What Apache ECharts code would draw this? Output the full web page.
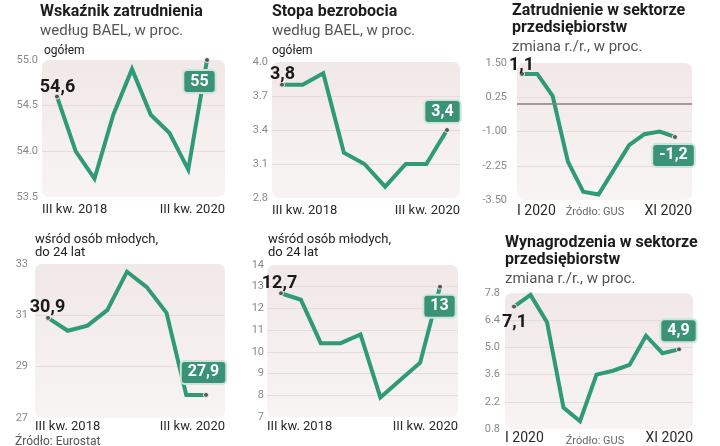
<!DOCTYPE html>
<html><head><meta charset="utf-8">
<script src="https://cdn.jsdelivr.net/npm/echarts@6/dist/echarts.min.js"></script>
<style>html,body{margin:0;padding:0;background:#fff}#c{width:720px;height:446px}</style>
</head><body><div id="c"></div>
<script>
// ---- categories ----
const quarters = ['III kw. 2018','IV kw. 2018','I kw. 2019','II kw. 2019','III kw. 2019','IV kw. 2019','I kw. 2020','II kw. 2020','III kw. 2020'];
const months = ['I 2020','II 2020','III 2020','IV 2020','V 2020','VI 2020','VII 2020','VIII 2020','IX 2020','X 2020','XI 2020'];
// ---- series values ----
const empTotal   = [54.6, 54.0, 53.7, 54.4, 54.9, 54.4, 54.2, 53.8, 55.0];
const unempTotal = [3.8, 3.8, 3.9, 3.2, 3.1, 2.9, 3.1, 3.1, 3.4];
const entEmp     = [1.1, 1.1, 0.3, -2.1, -3.2, -3.3, -2.4, -1.5, -1.1, -1.0, -1.2];
const empYoung   = [30.9, 30.4, 30.6, 31.2, 32.7, 32.1, 31.1, 27.9, 27.9];
const unempYoung = [12.7, 12.4, 10.4, 10.4, 10.8, 7.9, 8.7, 9.5, 13.0];
const wages      = [7.1, 7.7, 6.3, 1.9, 1.2, 3.6, 3.8, 4.1, 5.6, 4.7, 4.9];
// ---- y tick labels ----
const ticksEmpTotal   = [53.5, 54.0, 54.5, 55.0];
const ticksUnempTotal = [2.8, 3.1, 3.4, 3.7, 4.0];
const ticksEntEmp     = [-3.5, -2.25, -1.0, 0.25, 1.5];
const ticksEmpYoung   = [27, 29, 31, 33];
const ticksUnempYoung = [7, 8, 9, 10, 11, 12, 13, 14];
const ticksWages      = [0.8, 2.2, 3.6, 5.0, 6.4, 7.8];
// ---- texts ----
const titles = [
  {lines:[['Wskaźnik zatrudnienia','b'],['według BAEL, w proc.','s'],['ogółem','o']]},
  {lines:[['Stopa bezrobocia','b'],['według BAEL, w proc.','s'],['ogółem','o']]},
  {lines:[['Zatrudnienie w sektorze','b'],['przedsiębiorstw','b'],['zmiana r./r., w proc.','s']]},
  {lines:[['wśród osób młodych,','o2'],['do 24 lat','o2']]},
  {lines:[['wśród osób młodych,','o2'],['do 24 lat','o2']]},
  {lines:[['Wynagrodzenia w sektorze','b'],['przedsiębiorstw','b'],['zmiana r./r., w proc.','s']]}
];
const sources = ['Źródło: GUS', 'Źródło: Eurostat'];

// ---- layout (pixels) ----
const layout = [
  {data:empTotal, cats:quarters, ticks:ticksEmpTotal, dec:1, l:42,t:60,r:225,b:197, x0:57,x1:207, fo:[1,-9], lo:[-7,22], ym:4, xm:6, xfs:13,
   tx:[40,44], ty:[12,31,51]},
  {data:unempTotal, cats:quarters, ticks:ticksUnempTotal, dec:1, l:272,t:62,r:460,b:198, x0:282,x1:447, fo:[1,-10], lo:[-4,-18], ym:4, xm:6, xfs:13,
   tx:[272,272], ty:[12,31,51]},
  {data:entEmp, cats:months, ticks:ticksEntEmp, dec:2, l:517,t:63,r:692,b:200, x0:522,x1:675, fo:[0,-8], lo:[-1,19], ym:10, xm:4, xfs:14, zero:true,
   tx:[512,512], ty:[11,28,47]},
  {data:empYoung, cats:quarters, ticks:ticksEmpYoung, dec:0, l:35,t:264,r:225,b:418, x0:48,x1:206, fo:[0,-10], lo:[-2,-22], ym:7, xm:2, xfs:13,
   tx:[35,35], ty:[240,253]},
  {data:unempYoung, cats:quarters, ticks:ticksUnempYoung, dec:0, l:267,t:265,r:458,b:417, x0:281,x1:440, fo:[-1,-9], lo:[0,20], ym:3, xm:3, xfs:13,
   tx:[268,268], ty:[240,253]},
  {data:wages, cats:months, ticks:ticksWages, dec:1, l:505,t:293,r:693,b:429, x0:514,x1:679, fo:[1,16], lo:[0,-18], ym:5, xm:2, xfs:14,
   tx:[505,505], ty:[243,260,279]}
];

const GREEN = '#2f9a78';
const BOX = '#3a9376';
const FONT = 'Roboto, "Noto Sans", sans-serif';
const SYM = 5;
const fmt = v => String(v).replace('.', ',');

const grids = [], xAxes = [], yAxes = [], series = [], graphics = [];

layout.forEach((p, i) => {
  const n = p.data.length;
  const step = (p.x1 - p.x0) / (n - 1);
  const xmin = -(p.x0 - p.l) / step;
  const xmax = (n - 1) + (p.r - p.x1) / step;
  grids.push({left:p.l, top:p.t, width:p.r - p.l, height:p.b - p.t, containLabel:false});
  graphics.push({type:'rect', z:-10, silent:true,
    shape:{x:p.l, y:p.t, width:p.r - p.l, height:p.b - p.t, r:7},
    style:{fill:new echarts.graphic.LinearGradient(0,0,0,1,[{offset:0,color:'#f1e8e8'},{offset:1,color:'#f8f4f4'}])}});
  xAxes.push({type:'value', gridIndex:i, min:xmin, max:xmax, interval:xmax - xmin,
    axisLine:{show:false}, axisTick:{show:false}, splitLine:{show:false},
    axisLabel:{show:true, showMinLabel:true, showMaxLabel:true, alignMinLabel:'left', alignMaxLabel:'right',
      margin:p.xm, color:'#2a2a2a', fontFamily:FONT, fontSize:p.xfs,
      formatter: v => (Math.abs(v - xmin) < 0.01 ? p.cats[0] : p.cats[n - 1])}});
  const tk = p.ticks;
  yAxes.push({type:'value', gridIndex:i, min:tk[0], max:tk[tk.length - 1], interval:tk[1] - tk[0],
    axisLine:{show:false}, axisTick:{show:false},
    splitLine:{show:true, showMinLine:false, showMaxLine:false, lineStyle:{color:'#e6dada', width:1}},
    axisLabel:{margin:p.ym, color:'#8a8a8a', fontFamily:FONT, fontSize:11, formatter:v => v.toFixed(p.dec)}});
  const data = p.data.map((v, j) => {
    const item = {value:[j, v]};
    if (j === 0) {
      item.symbol = 'circle'; item.symbolSize = SYM;
      item.label = {show:true, position:[SYM / 2 + p.fo[0], SYM / 2 + p.fo[1]], align:'center', verticalAlign:'middle',
        formatter:() => fmt(v), color:'#1a1a1a', fontFamily:FONT, fontWeight:'bold', fontSize:18};
    } else if (j === n - 1) {
      item.symbol = 'circle'; item.symbolSize = SYM;
      item.label = {show:true, position:[SYM / 2 + p.lo[0], SYM / 2 + p.lo[1]], align:'center', verticalAlign:'middle',
        formatter:() => fmt(v), color:'#fff', fontFamily:FONT, fontWeight:'bold', fontSize:16, lineHeight:18,
        backgroundColor:BOX, borderColor:'#cfe3da', borderWidth:2, borderRadius:3, padding:[2,6,1,6]};
    } else {
      item.symbol = 'none';
    }
    return item;
  });
  const s = {type:'line', xAxisIndex:i, yAxisIndex:i, data, showSymbol:true, showAllSymbol:true,
    symbol:'circle', symbolSize:SYM, silent:true, animation:false, z:3, clip:false,
    lineStyle:{color:GREEN, width:4, join:'miter'},
    itemStyle:{color:'#555', borderColor:'#eee', borderWidth:1},
    labelLayout:{hideOverlap:false}};
  if (p.zero) {
    s.markLine = {silent:true, symbol:'none', animation:false, label:{show:false},
      lineStyle:{color:'#8b7c7c', width:1.5, type:'solid'}, data:[{yAxis:0}]};
  }
  series.push(s);
  // titles
  titles[i].lines.forEach((ln, k) => {
    const kind = ln[1];
    let font, fill, x = p.tx[0];
    if (kind === 'b') { font = 'bold 16px ' + FONT; fill = '#1c1c1c'; }
    else if (kind === 's') { font = '15px ' + FONT; fill = '#555'; }
    else if (kind === 'o') { font = '12px ' + FONT; fill = '#222'; x = p.tx[1]; }
    else { font = '13px ' + FONT; fill = '#222'; }
    graphics.push({type:'text', silent:true, x:x, y:p.ty[k],
      style:{text:ln[0], font:font, fill:fill, verticalAlign:'middle', align:'left'}});
  });
});

// sources
graphics.push({type:'text', silent:true, x:595, y:212, style:{text:sources[0], font:'11px ' + FONT, fill:'#666', align:'center', verticalAlign:'middle'}});
graphics.push({type:'text', silent:true, x:595, y:441, style:{text:sources[0], font:'11px ' + FONT, fill:'#666', align:'center', verticalAlign:'middle'}});
graphics.push({type:'text', silent:true, x:15, y:442, style:{text:sources[1], font:'12px ' + FONT, fill:'#555', align:'left', verticalAlign:'middle'}});

const chart = echarts.init(document.getElementById('c'), null, {renderer:'canvas'});
chart.setOption({animation:false, backgroundColor:'#fff', grid:grids, xAxis:xAxes, yAxis:yAxes, series, graphic:graphics});
</script></body></html>
